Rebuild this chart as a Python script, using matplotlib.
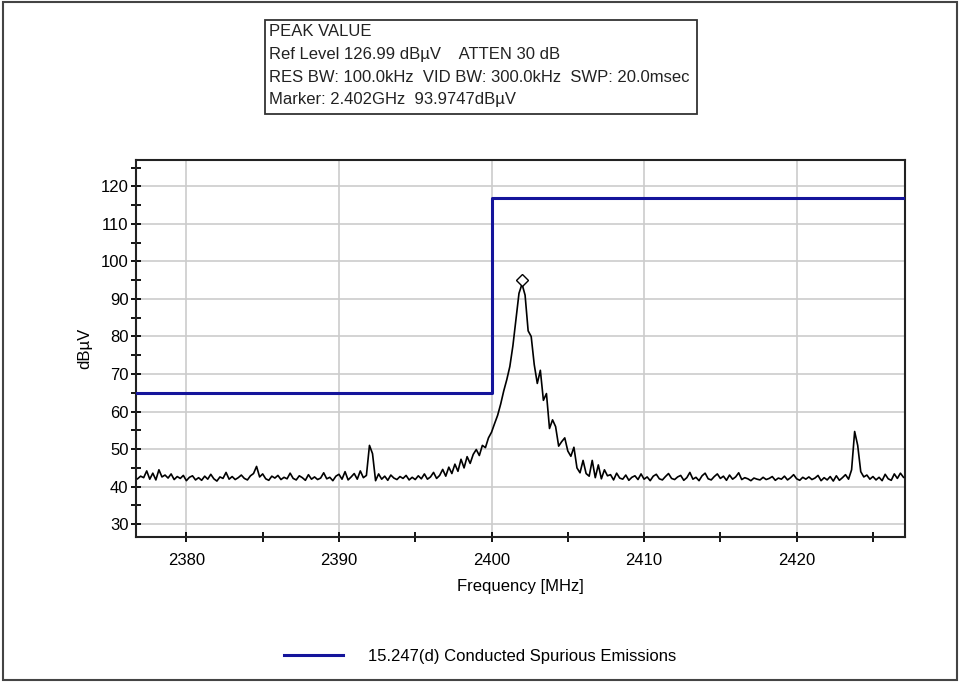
import numpy as np
import matplotlib
matplotlib.use('Agg')
import matplotlib.pyplot as plt
from matplotlib.patches import Rectangle
from matplotlib.ticker import MultipleLocator

plt.rcParams['font.family'] = ['Liberation Sans', 'DejaVu Sans']

f_start = 2376.8
f_step = 0.2
level_dbuv = [
    42.1, 42.8, 42.4, 44.2, 42.0, 43.6, 41.8, 44.5, 42.6, 43.1,
    42.3, 43.4, 41.9, 42.7, 42.2, 43.0, 41.6, 42.5, 42.9, 41.8,
    42.4, 41.7, 42.8, 42.0, 43.3, 42.1, 41.5, 42.6, 42.2, 43.8,
    42.0, 42.7, 41.9, 42.4, 43.1, 42.2, 41.8, 42.9, 43.5, 45.4,
    42.6, 43.4, 42.1, 41.7, 42.8, 42.3, 43.0, 41.9, 42.5, 42.1,
    43.6, 42.2, 41.8, 42.9, 42.4, 41.7, 43.2, 42.0, 42.6, 41.9,
    42.3, 43.7, 42.1, 42.5, 41.6, 42.8, 43.3, 42.0, 44.0, 41.8,
    42.6, 43.5, 42.0, 44.2, 42.4, 43.0, 51.0, 48.8, 41.6, 43.4,
    42.0, 42.8, 41.7, 43.1, 42.3, 41.9, 42.7, 42.2, 43.0, 41.8,
    42.5, 41.9, 42.9, 42.1, 43.4, 42.0, 42.6, 43.8, 42.2, 43.0,
    44.6, 42.8, 45.2, 43.5, 46.0, 44.1, 47.3, 45.0, 48.0, 46.2,
    48.6, 49.9, 48.3, 51.0, 50.4, 53.0, 54.5, 56.8, 59.0, 62.0,
    65.5, 68.5, 72.0, 77.5, 84.5, 91.5, 93.97, 91.0, 81.5, 80.0,
    72.5, 67.5, 71.0, 63.0, 64.8, 55.5, 57.8, 56.0, 50.8, 52.0,
    53.0, 49.5, 48.1, 50.5, 45.0, 43.7, 47.0, 43.5, 42.8, 47.0,
    42.4, 45.8, 42.1, 44.5, 42.9, 43.2, 41.8, 43.6, 42.3, 42.0,
    43.1, 41.7, 42.5, 42.9, 41.9, 43.4, 42.0, 42.6, 41.6, 42.8,
    43.3, 42.1, 41.8, 42.7, 43.5, 42.2, 41.9, 42.6, 43.0, 41.7,
    42.4, 43.8, 42.0, 42.5, 41.6, 42.9, 43.6, 42.1, 41.8, 42.7,
    43.4, 42.2, 42.8, 41.7, 43.1, 42.0, 42.6, 43.7, 41.9, 42.4,
    42.1, 41.6, 42.3, 42.0, 41.8, 42.5, 41.9, 42.2, 42.7, 41.7,
    42.3, 42.0, 42.8, 41.8, 42.4, 43.2, 42.1, 41.7, 42.5, 42.0,
    42.6, 41.9, 42.3, 43.0, 41.6, 42.4, 41.8, 42.7, 41.5, 42.9,
    41.7, 42.4, 43.2, 42.0, 44.5, 54.7, 51.0, 44.0, 42.6, 43.1,
    42.0, 42.7, 41.8, 42.5, 41.6, 43.3, 42.1, 41.7, 43.4, 42.2,
    43.6, 42.5,
]
freq_mhz = f_start + f_step * np.arange(len(level_dbuv))

# Limit line (step at band edge)
limit_freq = [2376.7, 2400.0, 2400.0, 2427.1]
limit_level = [65.0, 65.0, 116.9, 116.9]

marker_freq = 2402.0
marker_level = 93.97

info_lines = [
    'PEAK VALUE',
    'Ref Level 126.99 dB\u00b5V    ATTEN 30 dB',
    'RES BW: 100.0kHz  VID BW: 300.0kHz  SWP: 20.0msec',
    'Marker: 2.402GHz  93.9747dB\u00b5V',
]
legend_label = '15.247(d) Conducted Spurious Emissions'

fig = plt.figure(figsize=(9.6, 6.82), dpi=100)
ax = fig.add_axes([0.1417, 0.2126, 0.801, 0.5528])

ax.plot(freq_mhz, level_dbuv, color='black', lw=1.2, zorder=3)
limit_line, = ax.plot(limit_freq, limit_level, color='#14149b', lw=2.2, zorder=4,
                      label=legend_label)
ax.plot([marker_freq], [marker_level + 1.0], marker='D', ms=6, mfc='white',
        mec='black', mew=1.0, zorder=5)

ax.set_xlim(2376.7, 2427.1)
ax.set_ylim(26.6, 127)
ax.xaxis.set_major_locator(MultipleLocator(10))
ax.xaxis.set_minor_locator(MultipleLocator(5))
ax.yaxis.set_major_locator(MultipleLocator(10))
ax.yaxis.set_minor_locator(MultipleLocator(5))
ax.tick_params(which='both', direction='inout', length=7, width=1.3,
               labelsize=12, top=False, right=False)
ax.tick_params(axis='x', pad=8)
ax.tick_params(axis='y', pad=2)
ax.grid(True, which='major', color='#cccccc', lw=1.2)
ax.set_axisbelow(True)
for s in ax.spines.values():
    s.set_linewidth(1.5)
    s.set_color('#222222')

ax.set_xlabel('Frequency [MHz]', fontsize=12, labelpad=8)
ax.set_ylabel('dB\u00b5V', fontsize=12, labelpad=6)

# Info box at the top
fig.patches.append(Rectangle((265 / 960, 1 - 114 / 682), 432 / 960, 94 / 682,
                             transform=fig.transFigure, fill=False,
                             edgecolor='#333333', lw=1.3))
for i, line in enumerate(info_lines):
    fig.text(269 / 960, 1 - (32 + 22.6 * i) / 682, line, fontsize=12,
             va='center', ha='left', color='#222222')

fig.legend(handles=[limit_line], loc='center', bbox_to_anchor=(0.5, 0.037),
           frameon=False, fontsize=12, handlelength=3.5, handletextpad=1.5)

# Outer frame
fig.patches.append(Rectangle((0.003, 0.003), 0.994, 0.994,
                             transform=fig.transFigure, fill=False,
                             edgecolor='#444444', lw=1.5))

fig.savefig('out.png', dpi=100)
